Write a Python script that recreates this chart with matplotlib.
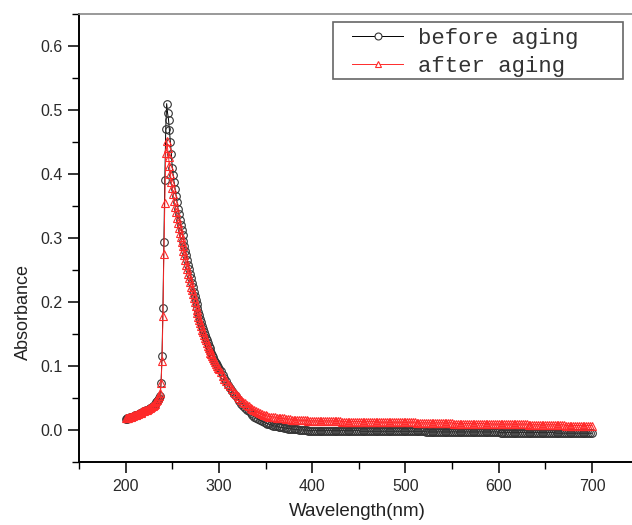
import numpy as np
import matplotlib
matplotlib.use("Agg")
import matplotlib.pyplot as plt
from matplotlib.patches import Rectangle
from matplotlib.ticker import MultipleLocator

# wavelength grid: 1 nm steps over the peak, 2 nm steps in the tail
wl_peak = np.arange(200, 301)
wl_tail = np.arange(302, 701, 2)

# absorbance in units of 0.001
before_peak = [
    17, 17, 18, 18, 19, 20, 20, 21, 21, 22,
    23, 23, 24, 24, 25, 26, 26, 27, 28, 28,
    29, 30, 31, 31, 32, 33, 34, 35, 36, 37,
    38, 39, 41, 43, 45, 47, 50, 53, 74, 116,
    190, 294, 390, 470, 510, 495, 485, 468, 450, 432,
    410, 398, 387, 377, 366, 356, 346, 337, 328, 320,
    312, 304, 296, 288, 280, 273, 265, 258, 251, 244,
    237, 230, 223, 216, 209, 203, 197, 191, 185, 179,
    173, 168, 163, 158, 153, 148, 144, 140, 136, 132,
    128, 124, 120, 117, 114, 110, 107, 104, 101, 98,
    95,
]
after_peak = [
    18, 18, 19, 19, 20, 21, 21, 22, 22, 23,
    24, 24, 25, 25, 26, 27, 27, 28, 29, 29,
    30, 31, 32, 32, 33, 34, 35, 36, 37, 38,
    39, 41, 43, 45, 47, 50, 53, 58, 74, 108,
    178, 275, 355, 433, 452, 440, 426, 412, 400, 388,
    378, 368, 358, 349, 340, 332, 324, 316, 308, 301,
    294, 287, 280, 273, 266, 258, 251, 244, 237, 231,
    224, 218, 212, 206, 200, 194, 188, 183, 177, 172,
    167, 162, 157, 153, 148, 144, 140, 136, 132, 128,
    125, 121, 118, 115, 112, 109, 106, 103, 100, 97,
    95,
]
before_tail = [
    92, 86, 81, 76, 71, 66, 61, 57, 53, 49,
    45, 41, 38, 35, 32, 29, 26, 24, 21, 19,
    17, 15, 14, 12, 11, 10, 9, 8, 7, 6,
    6, 5, 4, 4, 3, 3, 2, 2, 2, 1,
    1, 1, 0, 0, 0, 0, 0, -1, -1, -1,
    -1, -1, -1, -1, -1, -1, -1, -1, -1, -1,
    -1, -1, -1, -1, -1, -1, -1, -1, -1, -1,
    -1, -1, -1, -1, -1, -2, -2, -2, -2, -2,
    -2, -2, -2, -2, -2, -2, -2, -2, -2, -2,
    -2, -2, -2, -2, -2, -2, -2, -2, -2, -2,
    -2, -2, -2, -2, -2, -2, -2, -2, -2, -2,
    -3, -3, -3, -3, -3, -3, -3, -3, -3, -3,
    -3, -3, -3, -3, -3, -3, -3, -3, -3, -3,
    -3, -3, -3, -3, -3, -3, -3, -3, -3, -3,
    -3, -3, -3, -3, -3, -3, -3, -3, -3, -3,
    -4, -4, -4, -4, -4, -4, -4, -4, -4, -4,
    -4, -4, -4, -4, -4, -4, -4, -4, -4, -4,
    -4, -4, -4, -4, -4, -4, -4, -4, -4, -4,
    -5, -5, -5, -5, -5, -5, -5, -5, -5, -5,
    -5, -5, -5, -5, -5, -5, -5, -5, -5, -5,
]
after_tail = [
    90, 85, 80, 76, 72, 68, 64, 60, 57, 53,
    50, 47, 44, 42, 39, 37, 35, 33, 31, 29,
    28, 26, 25, 24, 23, 22, 21, 21, 20, 20,
    19, 19, 18, 18, 18, 17, 17, 17, 16, 16,
    16, 16, 15, 15, 15, 15, 15, 14, 14, 14,
    14, 14, 14, 14, 14, 14, 14, 14, 14, 14,
    14, 14, 14, 14, 14, 13, 13, 13, 13, 13,
    13, 13, 13, 13, 13, 13, 13, 13, 13, 13,
    13, 13, 13, 13, 13, 12, 12, 12, 12, 12,
    12, 12, 12, 12, 12, 12, 12, 12, 12, 12,
    12, 12, 12, 12, 12, 11, 11, 11, 11, 11,
    11, 11, 11, 11, 11, 11, 11, 11, 11, 11,
    11, 11, 11, 11, 11, 10, 10, 10, 10, 10,
    10, 10, 10, 10, 10, 10, 10, 10, 10, 10,
    10, 10, 10, 10, 10, 9, 9, 9, 9, 9,
    9, 9, 9, 9, 9, 9, 9, 9, 9, 9,
    9, 9, 9, 9, 9, 8, 8, 8, 8, 8,
    8, 8, 8, 8, 8, 8, 8, 8, 8, 8,
    8, 8, 8, 8, 8, 7, 7, 7, 7, 7,
    7, 7, 7, 7, 7, 7, 7, 7, 7, 7,
]

wl = np.concatenate([wl_peak, wl_tail])
before = np.array(before_peak + before_tail) / 1000.0
after = np.array(after_peak + after_tail) / 1000.0

W, H = 632, 525
fig = plt.figure(figsize=(W / 100, H / 100), dpi=100)
ax = fig.add_axes([0.125, 0.12, 0.8854, 0.8533])

red = "#ff2a2a"
ax.plot(wl, before, color="black", lw=0.7, marker="o", ms=5.5,
        mfc="none", mec="#333333", mew=0.8, label="before aging")
ax.plot(wl, after, color=red, lw=0.7, marker="^", ms=6,
        mfc="none", mec=red, mew=0.8, label="after aging")

ax.set_xlim(150, 750)
ax.set_ylim(-0.05, 0.65)
ax.xaxis.set_major_locator(MultipleLocator(100))
ax.xaxis.set_minor_locator(MultipleLocator(50))
ax.yaxis.set_major_locator(MultipleLocator(0.1))
ax.yaxis.set_minor_locator(MultipleLocator(0.05))
ax.tick_params(which="major", direction="out", length=8, width=1.1,
               labelsize=11.5, labelcolor="#2a2a2a", pad=4)
ax.tick_params(which="minor", direction="out", length=5, width=1.0)
ax.tick_params(top=False, right=False, which="both")
for lab in ax.get_xticklabels() + ax.get_yticklabels():
    lab.set_family("Liberation Sans")

ax.spines["left"].set_linewidth(1.4)
ax.spines["bottom"].set_linewidth(1.4)
ax.spines["top"].set_color("#888888")
ax.spines["top"].set_linewidth(1.2)

fig.text(23 / W, 1 - 312 / H, "Absorbance", rotation=90,
         ha="center", va="center", fontsize=13, family="Liberation Sans",
         color="#222222")
fig.text(357 / W, 1 - 512 / H, "Wavelength(nm)", ha="center",
         va="center", fontsize=13.5, family="Liberation Sans",
         color="#222222")

# legend without its own frame, boxed separately
leg = ax.legend(loc="upper left", bbox_to_anchor=(352 / W, 1 - 28 / H),
                bbox_transform=fig.transFigure, frameon=False,
                prop={"family": "Liberation Mono", "size": 16},
                handlelength=2.3, handletextpad=0.65, labelspacing=0.3,
                borderpad=0, borderaxespad=0, labelcolor="#333333")
for h in leg.legend_handles:
    h.set_markerfacecolor("white")
    h.set_markersize(5)
fig.add_artist(Rectangle((333 / W, 1 - 79 / H), 290 / W, 57 / H,
                         transform=fig.transFigure, fill=False,
                         edgecolor="#666666", lw=1.2))

fig.savefig("out.png", dpi=100)
